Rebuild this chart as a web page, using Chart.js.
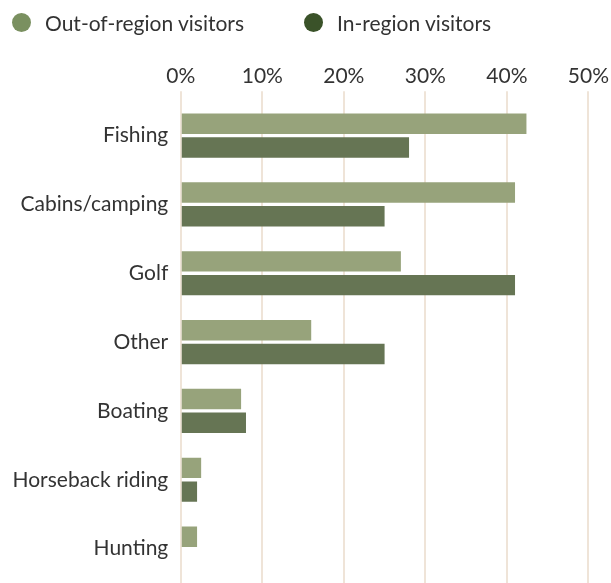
<!DOCTYPE html>
<html><head><meta charset="utf-8">
<script src="https://cdn.jsdelivr.net/npm/chart.js@4/dist/chart.umd.min.js"></script>
<style>
html,body{margin:0;padding:0;background:#fff}
#wrap{width:611px;height:583px;position:relative}
#legend{position:absolute;left:0;top:0;height:45px;width:611px;font-family:Lato,'Open Sans',sans-serif;font-size:21px;color:#333}
.item{position:absolute;top:8px;height:29px;line-height:29px;white-space:nowrap}
.dot{position:absolute;top:5px;left:0;width:19px;height:19px;border-radius:50%}
.lbl{position:absolute;left:33px;top:0}
</style>
</head><body><div id="wrap"><canvas id="c"></canvas><div id="legend"></div></div>
<script>
const categories = ["Fishing","Cabins/camping","Golf","Other","Boating","Horseback riding","Hunting"];
const outRegion = [42.4, 41, 27, 16, 7.4, 2.5, 2];
const inRegion = [28, 25, 41, 25, 8, 2, 0];
const tickValues = [0,10,20,30,40,50];
const seriesNames = ["Out-of-region visitors","In-region visitors"];
const barColors = ["#97a37b","#667554"];
const legendColors = ["#7a9060","#3a5229"];
const legendX = [12, 304];
const FONT = "Lato, 'Open Sans', sans-serif";

const lg = document.getElementById('legend');
seriesNames.forEach((name, i) => {
  const it = document.createElement('div');
  it.className = 'item';
  it.style.left = legendX[i] + 'px';
  const dot = document.createElement('span');
  dot.className = 'dot';
  dot.style.background = legendColors[i];
  const t = document.createElement('span');
  t.className = 'lbl';
  t.textContent = name;
  it.appendChild(dot); it.appendChild(t);
  lg.appendChild(it);
});

new Chart(document.getElementById('c'), {
  type: 'bar',
  data: {
    labels: categories,
    datasets: [
      {label: seriesNames[0], data: outRegion, backgroundColor: barColors[0], categoryPercentage: 0.69, barPercentage: 0.86},
      {label: seriesNames[1], data: inRegion, backgroundColor: barColors[1], categoryPercentage: 0.69, barPercentage: 0.86}
    ]
  },
  options: {
    indexAxis: 'y',
    responsive: true,
    maintainAspectRatio: false,
    animation: false,
    layout: {padding: {left: 0, right: 0, top: 62, bottom: -4}},
    plugins: {
      tooltip: {enabled: false},
      legend: {display: false}
    },
    scales: {
      x: {
        position: 'top',
        min: 0, max: 50,
        afterBuildTicks: (ax) => { ax.ticks = tickValues.map(v => ({value: v})); },
        grid: {color: '#efe4d8', lineWidth: 2, drawTicks: true, tickLength: 10},
        border: {display: false},
        ticks: {color: '#333', font: {family: FONT, size: 21}, padding: 2, callback: (v) => v + '%'}
      },
      y: {
        grid: {display: false, drawTicks: false},
        border: {display: false},
        afterFit: (s) => { s.paddingTop = 0; s.paddingBottom = 0; },
        ticks: {color: '#333', font: {family: FONT, size: 21}, padding: 12.5}
      }
    }
  }
});
</script></body></html>
